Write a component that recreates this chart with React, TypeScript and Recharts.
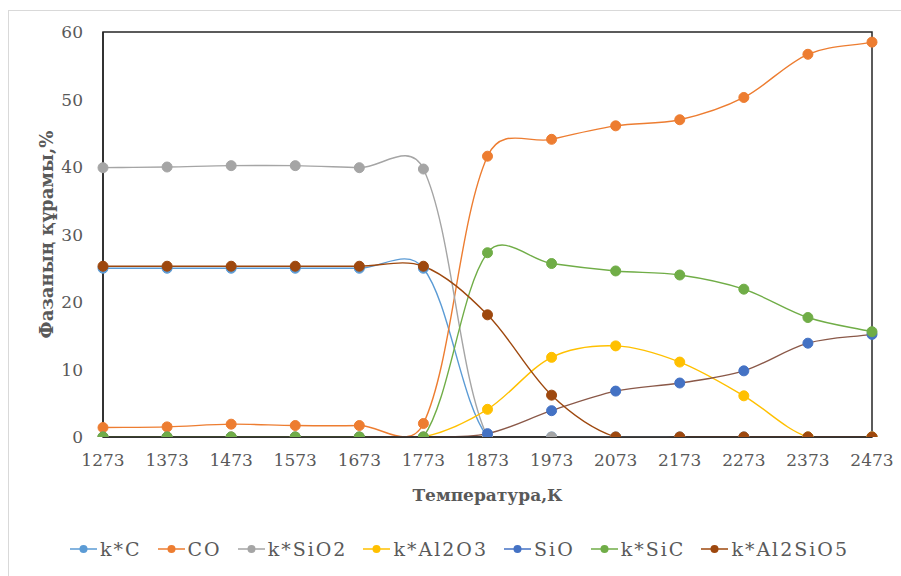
import React from 'react';
import { LineChart, Line, XAxis, YAxis, ReferenceArea, Label } from 'recharts';

const temperatures = [1273, 1373, 1473, 1573, 1673, 1773, 1873, 1973, 2073, 2173, 2273, 2373, 2473];
const kC = [25, 25, 25, 25, 25, 25, 0, 0, 0, 0, 0, 0, 0];
const CO = [1.4, 1.5, 1.9, 1.7, 1.7, 2.0, 41.6, 44.1, 46.1, 47.0, 50.3, 56.7, 58.5];
const kSiO2 = [39.9, 40.0, 40.2, 40.2, 39.9, 39.7, 0, 0, 0, 0, 0, 0, 0];
const kAl2O3 = [0, 0, 0, 0, 0, 0, 4.1, 11.8, 13.5, 11.1, 6.1, 0, 0];
const SiO = [0, 0, 0, 0, 0, 0, 0.5, 3.9, 6.8, 8.0, 9.8, 13.9, 15.2];
const kSiC = [0, 0, 0, 0, 0, 0, 27.3, 25.7, 24.6, 24.0, 21.9, 17.7, 15.6];
const kAl2SiO5 = [25.3, 25.3, 25.3, 25.3, 25.3, 25.3, 18.1, 6.2, 0, 0, 0, 0, 0];
const yTicks = [0, 10, 20, 30, 40, 50, 60];

const seriesList = [
  { key: 'kC', name: 'k*C', values: kC, color: '#5B9BD5', line: '#5B9BD5' },
  { key: 'CO', name: 'CO', values: CO, color: '#ED7D31', line: '#ED7D31' },
  { key: 'kSiO2', name: 'k*SiO2', values: kSiO2, color: '#A5A5A5', line: '#A5A5A5' },
  { key: 'kAl2O3', name: 'k*Al2O3', values: kAl2O3, color: '#FFC000', line: '#FFC000' },
  { key: 'SiO', name: 'SiO', values: SiO, color: '#4472C4', line: '#8a5848' },
  { key: 'kSiC', name: 'k*SiC', values: kSiC, color: '#70AD47', line: '#70AD47' },
  { key: 'kAl2SiO5', name: 'k*Al2SiO5', values: kAl2SiO5, color: '#9E480E', line: '#9E480E' },
];

const data = temperatures.map((t, i) => {
  const row: any = { T: t };
  seriesList.forEach((s) => { row[s.key] = s.values[i]; });
  return row;
});

// Excel-like smoothed line: Bezier with chord-weighted tangents
const excelCurve: any = (context: any) => {
  let pts: number[][] = [];
  const dist = (a: number[], b: number[]) => Math.hypot(b[0] - a[0], b[1] - a[1]);
  return {
    areaStart() {},
    areaEnd() {},
    lineStart() { pts = []; },
    point(x: number, y: number) { pts.push([+x, +y]); },
    lineEnd() {
      const n = pts.length;
      if (n === 0) return;
      context.moveTo(pts[0][0], pts[0][1]);
      if (n === 1) return;
      for (let i = 0; i < n - 1; i++) {
        const p0 = pts[i - 1] || pts[i];
        const p1 = pts[i];
        const p2 = pts[i + 1];
        const p3 = pts[i + 2] || pts[i + 1];
        const d01 = Math.sqrt(dist(p0, p1));
        const d12 = Math.sqrt(dist(p1, p2));
        const d23 = Math.sqrt(dist(p2, p3));
        const f1 = d01 + d12 > 0 ? (1 / 3) * d12 / (d01 + d12) : 0;
        const f2 = d12 + d23 > 0 ? (1 / 3) * d12 / (d12 + d23) : 0;
        const c1x = p1[0] + (p2[0] - p0[0]) * f1;
        const c1y = p1[1] + (p2[1] - p0[1]) * f1;
        const c2x = p2[0] - (p3[0] - p1[0]) * f2;
        const c2y = p2[1] - (p3[1] - p1[1]) * f2;
        context.bezierCurveTo(c1x, c1y, c2x, c2y, p2[0], p2[1]);
      }
    },
  };
};

const FONT = '"DejaVu Serif", serif';
const TEXT = '#595959';

const YLabel = (props: any) => {
  const vb = props.viewBox || { x: 0, y: 0, width: 0, height: 0 };
  const cx = vb.x + 3;
  const cy = vb.y + vb.height / 2;
  return (
    <text
      x={cx}
      y={cy}
      transform={`rotate(-90, ${cx}, ${cy})`}
      textAnchor="middle"
      dominantBaseline="central"
      fontFamily={FONT}
      fontWeight="bold"
      fontSize={18}
      fill={TEXT}
    >
      Фазаның құрамы,%
    </text>
  );
};

const XLabel = (props: any) => {
  const vb = props.viewBox || { x: 0, y: 0, width: 0, height: 0 };
  const cx = vb.x + vb.width / 2;
  const cy = vb.y + 58;
  return (
    <text
      x={cx}
      y={cy}
      textAnchor="middle"
      dominantBaseline="central"
      fontFamily={FONT}
      fontWeight="bold"
      fontSize={17}
      fill={TEXT}
    >
      Температура,К
    </text>
  );
};

const LegendIcon = ({ color }: { color: string }) => (
  <svg width={27} height={12} style={{ display: 'block' }}>
    <line x1={0} y1={6} x2={27} y2={6} stroke={color} strokeWidth={1.5} />
    <circle cx={13.5} cy={6} r={4} fill={color} />
  </svg>
);

export default function App() {
  return (
    <div style={{ position: 'absolute', left: 0, top: 0, width: 901, height: 576, background: '#fff' }}>
      <div
        style={{
          position: 'absolute',
          left: 8,
          top: 10,
          width: 900,
          height: 570,
          border: '1px solid #d9d9d9',
          boxSizing: 'border-box',
        }}
      />
      <div style={{ position: 'absolute', left: 0, top: 0 }}>
        <LineChart
          width={901}
          height={576}
          data={data}
          margin={{ top: 32, right: 29, left: 43, bottom: 59 }}
        >
          <XAxis
            dataKey="T"
            type="category"
            height={80}
            axisLine={{ stroke: '#262626', strokeWidth: 1.5 }}
            tickLine={false}
            tickSize={0}
            tickMargin={17}
            interval={0}
            tick={{ fill: TEXT, fontSize: 17, fontFamily: FONT }}
          >
            <Label content={<XLabel />} />
          </XAxis>
          <YAxis
            type="number"
            domain={[0, 60]}
            ticks={yTicks}
            allowDataOverflow
            width={60}
            axisLine={{ stroke: '#262626', strokeWidth: 1.5 }}
            tickLine={false}
            tickSize={0}
            tickMargin={20}
            tick={{ fill: TEXT, fontSize: 17, fontFamily: FONT }}
          >
            <Label content={<YLabel />} />
          </YAxis>
          <ReferenceArea
            x1={1273}
            x2={2473}
            y1={0}
            y2={60}
            fill="none"
            stroke="#262626"
            strokeWidth={1.5}
            ifOverflow="visible"
          />
          {seriesList.map((s) => (
            <Line
              key={s.key}
              dataKey={s.key}
              name={s.name}
              type={excelCurve}
              stroke={s.line}
              strokeWidth={1.4}
              dot={{ r: 5, fill: s.color, stroke: s.color, strokeWidth: 1 }}
              activeDot={false}
              isAnimationActive={false}
            />
          ))}
        </LineChart>
      </div>
      <div
        style={{
          position: 'absolute',
          left: 70,
          top: 538,
          display: 'flex',
          alignItems: 'center',
          fontFamily: FONT,
          fontSize: 19,
          letterSpacing: 2,
          color: TEXT,
          whiteSpace: 'nowrap',
        }}
      >
        {seriesList.map((s, i) => (
          <div
            key={s.key}
            style={{ display: 'flex', alignItems: 'center', marginRight: i < seriesList.length - 1 ? 16 : 0 }}
          >
            <LegendIcon color={s.color} />
            <span style={{ marginLeft: 3 }}>{s.name}</span>
          </div>
        ))}
      </div>
    </div>
  );
}
